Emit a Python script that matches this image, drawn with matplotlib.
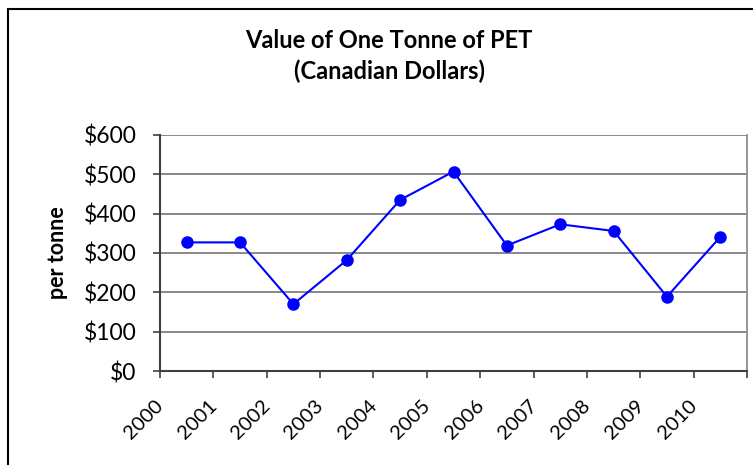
import numpy as np
import matplotlib.pyplot as plt
from matplotlib.patches import Rectangle
from matplotlib.transforms import ScaledTranslation

# PET value per tonne, Canadian dollars
years = ['2000', '2001', '2002', '2003', '2004', '2005',
         '2006', '2007', '2008', '2009', '2010']
values = [327, 327, 170, 282, 435, 507, 319, 373, 356, 189, 341]
yticks = [0, 100, 200, 300, 400, 500, 600]

plt.rcParams['font.family'] = ['Lato', 'DejaVu Sans']

fig = plt.figure(figsize=(7.53, 4.65), dpi=100)
ax = fig.add_axes([160 / 753, 1 - 371 / 465, 587 / 753, 236 / 465])

x = np.arange(len(years))
ax.plot(x, values, color='#0000ff', lw=1.5, marker='o', markersize=8,
        markeredgecolor='#0000ff', zorder=3)

ax.set_xlim(-0.5, len(years) - 0.5)
ax.set_ylim(0, 600)
ax.set_yticks(yticks)
ax.set_yticklabels([f'${v}' for v in yticks], fontsize=16.5)
ax.yaxis.grid(True, color='#808080', lw=1.3)
ax.set_axisbelow(True)

# ticks sit between categories, year labels set below each category
ax.set_xticks(np.arange(-0.5, len(years), 1))
ax.set_xticklabels([])
ax.tick_params(axis='x', length=5, width=1.2, color='#404040')
ax.tick_params(axis='y', length=5, width=1.2, color='#404040', pad=12)

lbl_trans = ax.get_xaxis_transform() + ScaledTranslation(
    -20 / 100, -26 / 100, fig.dpi_scale_trans)
for xi, yr in zip(x, years):
    ax.text(xi, 0, yr, transform=lbl_trans, rotation=45,
            ha='right', va='top', fontsize=14.5)

for side in ['left', 'bottom']:
    ax.spines[side].set_color('#404040')
    ax.spines[side].set_linewidth(1.5)
ax.spines['right'].set_color('#909090')
ax.spines['right'].set_linewidth(1.3)
ax.spines['top'].set_visible(False)

ax.set_ylabel('per tonne', fontsize=15.5, fontweight='bold', labelpad=11)

fig.text(389 / 753, 1 - 41 / 465, 'Value of One Tonne of PET',
         ha='center', va='center', fontsize=17, fontweight='bold')
fig.text(389 / 753, 1 - 71 / 465, '(Canadian Dollars)',
         ha='center', va='center', fontsize=17, fontweight='bold')

# chart frame
fig.patches.append(Rectangle((8 / 753, -0.1), 1.1, 1 - 9 / 465 + 0.1,
                             transform=fig.transFigure, fill=False,
                             edgecolor='black', lw=1.5))

fig.savefig('out.png', dpi=100)
